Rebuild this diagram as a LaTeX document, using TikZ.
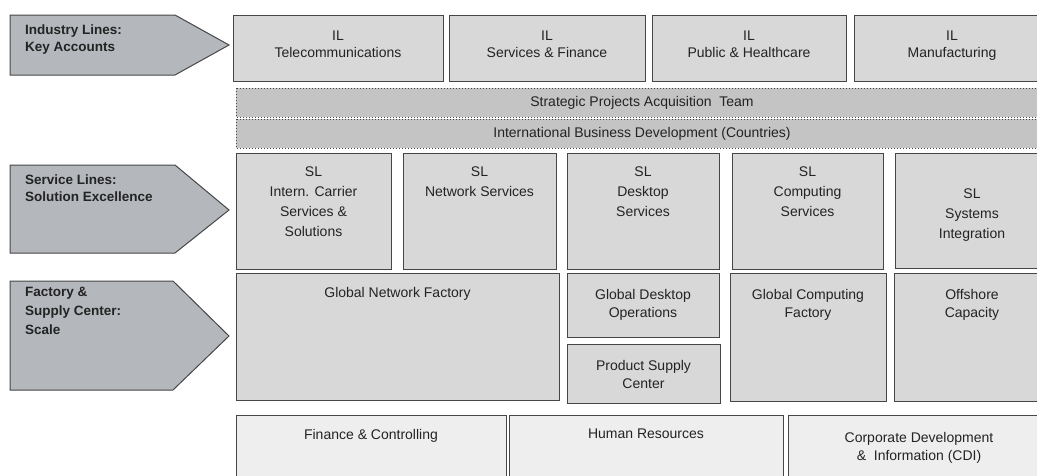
\documentclass[tikz,border=0pt]{standalone}
\usepackage{fontspec}
\setmainfont{Liberation Sans}
\definecolor{boxc}{RGB}{216,216,216}
\definecolor{bandc}{RGB}{196,196,196}
\definecolor{arrc}{RGB}{180,184,188}
\definecolor{lowc}{RGB}{238,238,238}
\definecolor{bordc}{RGB}{70,70,70}
\definecolor{txtc}{RGB}{35,35,35}
\begin{document}
\begin{tikzpicture}[x=1pt,y=-1pt,
  box/.style={draw=bordc, line width=1pt, fill=boxc},
  band/.style={draw=bordc, line width=1pt, dotted, fill=bandc},
  arrowshape/.style={draw=bordc, line width=1pt, fill=arrc},
  low/.style={draw=bordc, line width=1pt, fill=lowc},
  txt/.style={font=\fontsize{14}{17}\selectfont, align=center, inner sep=0pt, anchor=north, text=txtc},
  txtsl/.style={txt, font=\fontsize{14}{20}\selectfont},
  txtf/.style={txt, font=\fontsize{14}{18}\selectfont},
  bandtxt/.style={font=\fontsize{14}{17}\selectfont, inner sep=0pt, anchor=base, text=txtc},
  lab/.style={font=\fontsize{13.5}{17}\selectfont\bfseries, align=left, inner sep=0pt, anchor=north west, text=txtc},
  labc/.style={lab, font=\fontsize{13.5}{19}\selectfont\bfseries}
]
\useasboundingbox (0,0) rectangle (1037,475);
\clip (0,0) rectangle (1037,475);

% left arrows
\draw[arrowshape] (10,15) -- (175,15) -- (229,45) -- (175,75) -- (10,75) -- cycle;
\node[lab] (a1) at (25,25) {Industry Lines:\\Key Accounts};
\draw[arrowshape] (10,165) -- (175,165) -- (229,210) -- (175,253) -- (10,253) -- cycle;
\node[lab] (a2) at (25,175) {Service Lines:\\Solution Excellence};
\draw[arrowshape] (10,281) -- (173,281) -- (229,336) -- (173,390) -- (10,390) -- cycle;
\node[labc] (a3) at (25,287) {Factory \&\\Supply Center:\\Scale};

% industry lines
\draw[box] (233,15) rectangle (443,81);
\node[txt] (il1) at (338,31) {IL\\Telecommunications};
\draw[box] (449,15) rectangle (645,81);
\node[txt] (il2) at (547,31) {IL\\Services \& Finance};
\draw[box] (652,15) rectangle (846,81);
\node[txt] (il3) at (749,31) {IL\\Public \& Healthcare};
\draw[box] (854,15) rectangle (1050,81);
\node[txt] (il4) at (952,31) {IL\\Manufacturing};

% bands
\draw[band] (236,88) rectangle (1048,117);
\node[bandtxt] (b1) at (642,106) {Strategic Projects Acquisition\ \ Team};
\draw[band] (236,119) rectangle (1048,148);
\node[bandtxt] (b2) at (642,137) {International Business Development (Countries)};

% service lines
\draw[box] (236,153) rectangle (391,269);
\node[txtsl] (sl1) at (313.5,167) {SL\\Intern. Carrier\\Services \&\\Solutions};
\draw[box] (403,153) rectangle (556,269);
\node[txtsl] (sl2) at (479.5,167) {SL\\Network Services};
\draw[box] (567,153) rectangle (719,269);
\node[txtsl] (sl3) at (643,167) {SL\\Desktop\\Services};
\draw[box] (732,153) rectangle (883,269);
\node[txtsl] (sl4) at (807.5,167) {SL\\Computing\\Services};
\draw[box] (895,153) rectangle (1050,268);
\node[txtsl] (sl5) at (972,189) {SL\\Systems\\Integration};

% factory row
\draw[box] (236,273) rectangle (559,400);
\node[txtf] (f1) at (397.5,287) {Global Network Factory};
\draw[box] (567,273) rectangle (719,337);
\node[txtf] (f2) at (643,289) {Global Desktop\\Operations};
\draw[box] (567,344) rectangle (720,403);
\node[txtf] (f3) at (643.5,360) {Product Supply\\Center};
\draw[box] (730,273) rectangle (886,401);
\node[txtf] (f4) at (808,289) {Global Computing\\Factory};
\draw[box] (894,273) rectangle (1050,401);
\node[txtf] (f5) at (972,289) {Offshore\\Capacity};

% bottom row
\draw[low] (236,415) rectangle (506,490);
\node[txtf] (c1) at (371,429) {Finance \& Controlling};
\draw[low] (509,415) rectangle (783,490);
\node[txtf] (c2) at (646,429) {Human Resources};
\draw[low] (788,415) rectangle (1050,490);
\node[txtf] (c3) at (919,432) {Corporate Development\\\&\ \ Information (CDI)};
\end{tikzpicture}
\end{document}
